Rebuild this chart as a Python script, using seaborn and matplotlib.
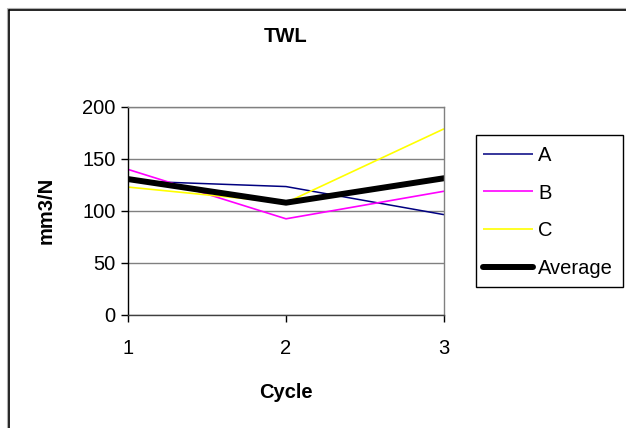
import matplotlib
matplotlib.use("Agg")
import matplotlib.pyplot as plt
import seaborn as sns
import pandas as pd
from matplotlib.lines import Line2D
from matplotlib.patches import Rectangle

# Wear rate per cycle for each specimen
cycles = [1, 2, 3]
series_a = [129, 123.5, 96.5]
series_b = [140, 92.5, 119]
series_c = [123, 108, 179]
series_avg = [130.7, 108, 131.5]

names = ["A", "B", "C", "Average"]
colors = ["#000080", "#FF00FF", "#FFFF00", "#000000"]
widths = [1.1, 1.2, 1.2, 4.3]

sns.set_theme(style="white")
plt.rcParams["font.family"] = ["Liberation Sans", "DejaVu Sans"]
plt.rcParams["text.color"] = "black"
plt.rcParams["xtick.color"] = "black"
plt.rcParams["ytick.color"] = "black"
plt.rcParams["axes.labelcolor"] = "black"

FS = 14.5
W, H = 626, 428
fig = plt.figure(figsize=(W / 100, H / 100), dpi=100)
ax = fig.add_axes([128 / W, 1 - 315 / H, (444 - 128) / W, (315 - 107) / H])

frames = []
for name, vals in zip(names, [series_a, series_b, series_c, series_avg]):
    frames.append(pd.DataFrame({"Cycle": cycles, "value": vals, "series": name}))
df = pd.concat(frames, ignore_index=True)

for name, col, lw in zip(names, colors, widths):
    sns.lineplot(data=df[df["series"] == name], x="Cycle", y="value",
                 color=col, linewidth=lw, ax=ax, legend=False,
                 solid_capstyle="round" if name == "Average" else "butt",
                 solid_joinstyle="round")

ax.set_xlim(1, 3)
ax.set_ylim(0, 200)
ax.set_xticks(cycles)
ax.set_xticklabels([str(c) for c in cycles])
ax.set_yticks([0, 50, 100, 150, 200])
ax.tick_params(axis="both", labelsize=FS, length=5, width=1, color="#000000",
               direction="out", left=True, bottom=True, pad=4)
ax.tick_params(axis="x", pad=12)
ax.yaxis.grid(True, color="#808080", linewidth=1.0)
ax.xaxis.grid(False)
ax.set_axisbelow(True)
for side in ["top", "right"]:
    ax.spines[side].set_color("#808080")
    ax.spines[side].set_linewidth(1.0)
ax.spines["left"].set_color("#000000")
ax.spines["bottom"].set_color("#404040")
for side in ["left", "bottom"]:
    ax.spines[side].set_linewidth(1.0)

ax.set_xlabel("Cycle", fontsize=FS, fontweight="bold")
ax.set_ylabel("mm3/N", fontsize=FS, fontweight="bold")
ax.xaxis.set_label_coords(0.5, -0.325)
ax.yaxis.set_label_coords(-0.23, 0.505)

fig.text(286 / W, 1 - 37 / H, "TWL", ha="center", va="center",
         fontsize=FS, fontweight="bold")

# Legend frame drawn separately so its padding can differ per side
fig.add_artist(Rectangle((476 / W, 1 - 287 / H), (623 - 476) / W, (287 - 135) / H,
                         transform=fig.transFigure, facecolor="white",
                         edgecolor="black", linewidth=1.0, zorder=2))
handles = [Line2D([0], [0], color=c, linewidth=lw,
                  solid_capstyle="round" if n == "Average" else "butt")
           for n, c, lw in zip(names, colors, widths)]
leg = fig.legend(handles, names, loc="upper left",
                 bbox_to_anchor=(483 / W, 1 - 146 / H),
                 bbox_transform=fig.transFigure,
                 fontsize=FS, frameon=False,
                 handlelength=2.5, handletextpad=0.25, labelspacing=0.92,
                 borderpad=0, borderaxespad=0)
leg.set_zorder(3)
for t in leg.get_texts():
    t.set_color("black")

# Chart-area border (top and left edges visible)
fig.add_artist(Line2D([8 / W, 1], [1 - 8 / H, 1 - 8 / H],
                      transform=fig.transFigure, color="#b0b0b0", linewidth=0.8))
fig.add_artist(Line2D([7 / W, 7 / W], [0, 1 - 8 / H],
                      transform=fig.transFigure, color="#b0b0b0", linewidth=0.8))
fig.add_artist(Line2D([8.5 / W, 1], [1 - 9.5 / H, 1 - 9.5 / H],
                      transform=fig.transFigure, color="#000000", linewidth=1.2))
fig.add_artist(Line2D([8.5 / W, 8.5 / W], [0, 1 - 9.5 / H],
                      transform=fig.transFigure, color="#000000", linewidth=1.2))

fig.savefig("out.png", dpi=100, facecolor="white")
